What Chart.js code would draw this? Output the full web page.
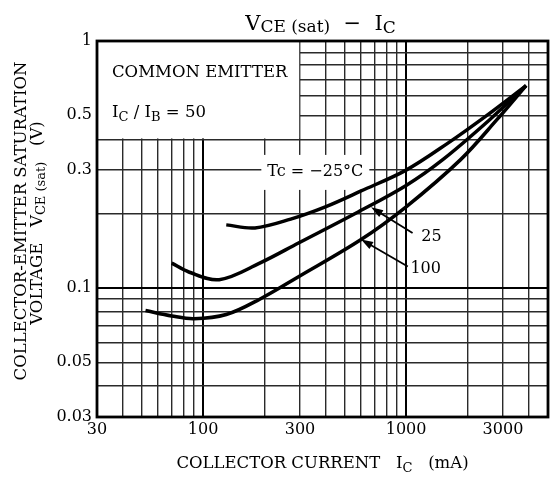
<!DOCTYPE html>
<html>
<head>
<meta charset="utf-8">
<script src="https://cdn.jsdelivr.net/npm/chart.js@4.4.1/dist/chart.umd.min.js"></script>
<style>
  html, body { margin: 0; padding: 0; background: #fff; }
</style>
</head>
<body>
<canvas id="vceChart" width="551" height="480"></canvas>
<script>
// VCE(sat) - IC, common emitter, IC/IB = 50
const FONT = '"DejaVu Serif", "Liberation Serif", serif';

// collector current (mA) / saturation voltage (V)
const icCold = [130, 180, 270, 400, 600, 1000, 1600, 2500, 3900];
const vceCold = [0.180, 0.175, 0.19, 0.213, 0.247, 0.30, 0.385, 0.50, 0.66];
const icRoom = [70, 85, 120, 190, 295, 580, 1000, 1510, 2580, 3900];
const vceRoom = [0.126, 0.116, 0.108, 0.126, 0.152, 0.203, 0.26, 0.33, 0.48, 0.66];
const icHot = [52, 70, 90, 130, 190, 295, 600, 1000, 1850, 2800, 3900];
const vceHot = [0.081, 0.077, 0.075, 0.078, 0.090, 0.111, 0.157, 0.213, 0.33, 0.48, 0.66];

// grid and tick labels
const gridX = [30, 40, 50, 60, 70, 80, 90, 100, 200, 300, 400, 500, 600, 700, 800, 900, 1000, 2000, 3000, 4000, 5000];
const gridY = [0.03, 0.04, 0.05, 0.06, 0.07, 0.08, 0.09, 0.1, 0.2, 0.3, 0.4, 0.5, 0.6, 0.7, 0.8, 0.9, 1];
const xTickLabels = [30, 100, 300, 1000, 3000];
const yTickLabels = [0.03, 0.05, 0.1, 0.3, 0.5, 1];
const decadeX = [100, 1000];
const decadeY = [0.1];

// annotation anchors, in data units
const noteBoxCorner = [300, 0.4];
const coldLabelAt = [357, 0.295];
const roomLabelAt = [1333, 0.161];
const hotLabelAt = [1248, 0.12];
const roomArrow = [[1076, 0.167], [672, 0.212]];
const hotArrow = [[1019, 0.122], [600, 0.157]];

function toPoints(xs, ys) {
    return xs.map((v, i) => ({ x: v, y: ys[i] }));
}

function drawRuns(ctx, runs, x, y, align) {
    let total = 0;
    runs.forEach(r => {
        ctx.font = r.size + 'px ' + FONT;
        r.w = ctx.measureText(r.text).width;
        total += r.w;
    });
    let cx = align === 'center' ? x - total / 2 : (align === 'right' ? x - total : x);
    ctx.textAlign = 'left';
    ctx.textBaseline = 'alphabetic';
    runs.forEach(r => {
        ctx.font = r.size + 'px ' + FONT;
        ctx.fillText(r.text, cx, y + (r.dy || 0));
        cx += r.w;
    });
    return total;
}

function arrow(ctx, x, y, from, to) {
    const x1 = x.getPixelForValue(from[0]), y1 = y.getPixelForValue(from[1]);
    const x2 = x.getPixelForValue(to[0]), y2 = y.getPixelForValue(to[1]);
    const ang = Math.atan2(y2 - y1, x2 - x1);
    ctx.lineWidth = 1.8;
    ctx.beginPath();
    ctx.moveTo(x1, y1);
    ctx.lineTo(x2 - 6 * Math.cos(ang), y2 - 6 * Math.sin(ang));
    ctx.stroke();
    ctx.beginPath();
    ctx.moveTo(x2, y2);
    ctx.lineTo(x2 - 12 * Math.cos(ang) + 4 * Math.sin(ang), y2 - 12 * Math.sin(ang) - 4 * Math.cos(ang));
    ctx.lineTo(x2 - 12 * Math.cos(ang) - 4 * Math.sin(ang), y2 - 12 * Math.sin(ang) + 4 * Math.cos(ang));
    ctx.closePath();
    ctx.fill();
}

const decorations = {
    id: 'decorations',
    beforeDatasetsDraw(chart) {
        const { ctx, chartArea: a, scales: { x, y } } = chart;
        ctx.save();
        ctx.fillStyle = '#fff';
        // blank corner for the test conditions
        const bx = x.getPixelForValue(noteBoxCorner[0]);
        const by = y.getPixelForValue(noteBoxCorner[1]);
        ctx.fillRect(a.left, a.top, bx - a.left - 0.8, by - a.top - 0.8);
        // white patch behind the -25 label
        ctx.font = '16px ' + FONT;
        const lx = x.getPixelForValue(coldLabelAt[0]);
        const ly = y.getPixelForValue(coldLabelAt[1]);
        const lw = ctx.measureText('Tc = \u221225\u00b0C').width;
        ctx.fillRect(lx - lw / 2 - 6, ly - 17, lw + 12, 35);

        // frame
        ctx.strokeStyle = '#000';
        ctx.lineWidth = 2.8;
        ctx.strokeRect(a.left, a.top, a.right - a.left, a.bottom - a.top);

        ctx.fillStyle = '#000';
        drawRuns(ctx, [{ text: 'COMMON EMITTER', size: 16.5 }], a.left + 15, 77, 'left');
        drawRuns(ctx, [
            { text: 'I', size: 16.5 }, { text: 'C', size: 13, dy: 4 },
            { text: ' / ', size: 16.5 }, { text: 'I', size: 16.5 }, { text: 'B', size: 13, dy: 4 },
            { text: ' = 50', size: 16.5 }
        ], a.left + 15, 117, 'left');

        ctx.textAlign = 'center';
        ctx.textBaseline = 'middle';
        ctx.font = '16px ' + FONT;
        ctx.fillText('Tc = \u221225\u00b0C', lx, ly);

        // title
        drawRuns(ctx, [
            { text: 'V', size: 21 }, { text: 'CE (sat)', size: 17, dy: 2 },
            { text: '  \u2212  ', size: 21 },
            { text: 'I', size: 21 }, { text: 'C', size: 17, dy: 3 }
        ], (a.left + a.right) / 2 - 2, 30, 'center');

        // x title
        drawRuns(ctx, [
            { text: 'COLLECTOR CURRENT   ', size: 16.5 },
            { text: 'I', size: 16.5 }, { text: 'C', size: 13, dy: 4 },
            { text: '   (mA)', size: 16.5 }
        ], (a.left + a.right) / 2, 468, 'center');

        // y title, two rotated lines
        ctx.save();
        ctx.translate(26, 221);
        ctx.rotate(-Math.PI / 2);
        drawRuns(ctx, [{ text: 'COLLECTOR-EMITTER SATURATION', size: 16.5 }], 0, 0, 'center');
        ctx.restore();
        ctx.save();
        ctx.translate(42, 223);
        ctx.rotate(-Math.PI / 2);
        drawRuns(ctx, [
            { text: 'VOLTAGE   V', size: 16.5 }, { text: 'CE (sat)', size: 13, dy: 3 },
            { text: '   (V)', size: 16.5 }
        ], 0, 0, 'center');
        ctx.restore();
        ctx.restore();
    },
    afterDatasetsDraw(chart) {
        const { ctx, scales: { x, y } } = chart;
        ctx.save();
        ctx.fillStyle = '#000';
        ctx.strokeStyle = '#000';
        arrow(ctx, x, y, roomArrow[0], roomArrow[1]);
        arrow(ctx, x, y, hotArrow[0], hotArrow[1]);
        ctx.font = '16px ' + FONT;
        ctx.textAlign = 'center';
        ctx.textBaseline = 'middle';
        ctx.fillText('25', x.getPixelForValue(roomLabelAt[0]), y.getPixelForValue(roomLabelAt[1]));
        ctx.fillText('100', x.getPixelForValue(hotLabelAt[0]), y.getPixelForValue(hotLabelAt[1]));
        ctx.restore();
    }
};

const curveStyle = {
    borderColor: '#000',
    borderWidth: 3.5,
    pointRadius: 0,
    fill: false,
    tension: 0.35
};

const ctx = document.getElementById('vceChart').getContext('2d');
new Chart(ctx, {
    type: 'line',
    data: {
        datasets: [
            { label: 'Tc = -25\u00b0C', data: toPoints(icCold, vceCold), ...curveStyle },
            { label: '25', data: toPoints(icRoom, vceRoom), ...curveStyle },
            { label: '100', data: toPoints(icHot, vceHot), ...curveStyle }
        ]
    },
    options: {
        responsive: false,
        animation: false,
        layout: { padding: { top: 41, right: 2, left: 0, bottom: 0 } },
        plugins: {
            legend: { display: false },
            tooltip: { enabled: false }
        },
        scales: {
            x: {
                type: 'logarithmic',
                min: 30,
                max: 5000,
                afterBuildTicks: s => { s.ticks = gridX.map(v => ({ value: v })); },
                afterFit: s => { s.height = 63; },
                border: { display: false },
                grid: {
                    drawTicks: false,
                    color: c => decadeX.includes(c.tick && c.tick.value) ? '#000' : '#2a2a2a',
                    lineWidth: c => decadeX.includes(c.tick && c.tick.value) ? 2 : 1.4
                },
                ticks: {
                    autoSkip: false,
                    maxRotation: 0,
                    padding: 3,
                    color: '#000',
                    font: { family: FONT, size: 16 },
                    callback: v => xTickLabels.includes(v) ? String(v) : ''
                }
            },
            y: {
                type: 'logarithmic',
                min: 0.03,
                max: 1,
                afterBuildTicks: s => { s.ticks = gridY.map(v => ({ value: v })); },
                afterFit: s => { s.width = 97; },
                border: { display: false },
                grid: {
                    drawTicks: false,
                    color: c => decadeY.includes(c.tick && c.tick.value) ? '#000' : '#2a2a2a',
                    lineWidth: c => decadeY.includes(c.tick && c.tick.value) ? 2 : 1.4
                },
                ticks: {
                    autoSkip: false,
                    padding: 5,
                    color: '#000',
                    font: { family: FONT, size: 16 },
                    callback: v => yTickLabels.includes(v) ? String(v) : ''
                }
            }
        }
    },
    plugins: [decorations]
});
</script>
</body>
</html>
